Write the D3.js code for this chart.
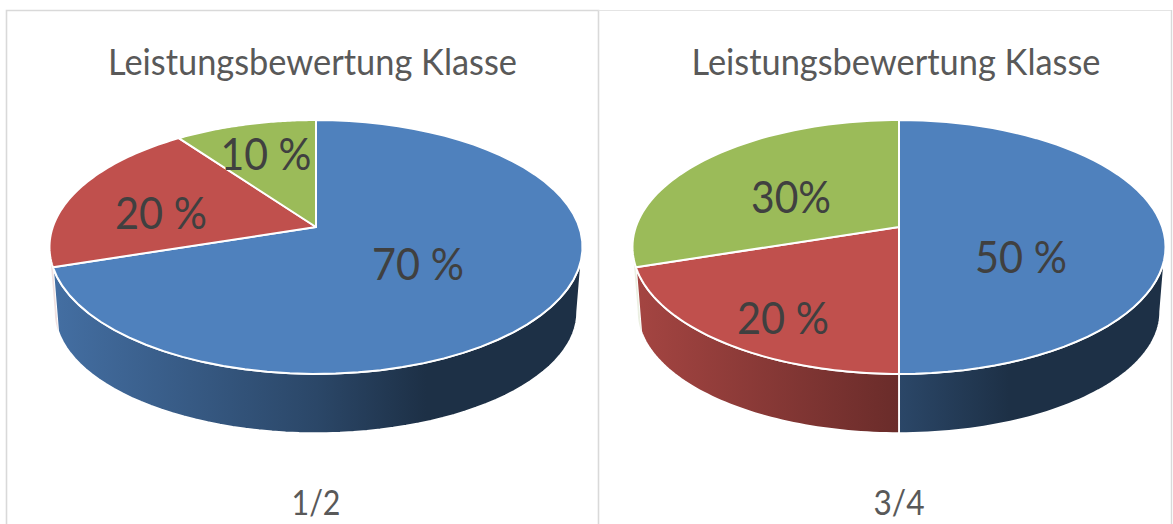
<!DOCTYPE html>
<html><head><meta charset="utf-8">
<style>html,body{margin:0;padding:0;background:#fff}svg{display:block}text{font-family:Lato,"Open Sans",sans-serif}</style>
<script src="https://cdn.jsdelivr.net/npm/d3@7/dist/d3.min.js"></script>
</head><body><svg id="c" width="1173" height="524"></svg>
<script>
const chartTitle = "Leistungsbewertung Klasse";
const categories = ["Sehr gut", "Mittel", "Schwach"];
const gradeGroups = ["1/2", "3/4"];
const values12 = [70, 20, 10];
const values34 = [50, 20, 30];
const labels12 = ["70 %", "20 %", "10 %"];
const labels34 = ["50 %", "20 %", "30%"];
const colors = ["#4f81bd", "#c0504d", "#9bbb59"];

const W = 1173, H = 524;
const svg = d3.select("#c").attr("viewBox", [0, 0, W, H]);
const defs = svg.append("defs");

// layout: the tilted pie is a projected circle
const apexY = 227, R = 263.2, B = 123.8, k = 0.1575;
const rimSx = 0.98, rimSy = 0.955, rimOff = 65.8;
const sideStart = 99 * Math.PI / 180, sideEnd = 261 * Math.PI / 180, fadeFrom = 252 * Math.PI / 180;
const shade = d3.scaleLinear().domain([-266, 0, 110, 266]).range([0.86, 0.55, 0.37, 0.37]);
const project = (a, f = 1) => {
  const u = f * Math.sin(a), v = -f * Math.cos(a), d = 1 - k * v;
  return [R * u / d, B * v / d];
};
const rim = a => { const [x, y] = project(a); return [x * rimSx, y * rimSy + rimOff]; };
const line = d3.line();
const arcPts = (a0, a1, fn) => d3.range(0, 61).map(i => fn(a0 + (a1 - a0) * i / 60));

const panels = [
  {id: "a", cx: 316, titleX: 312.5, values: values12, labels: labels12, group: gradeGroups[0], groupW: 49,
   labelPos: [[102, 38], [-155, -13], [-50, -72]], labelW: [92, 92, 91]},
  {id: "b", cx: 899, titleX: 896, values: values34, labels: labels34, group: gradeGroups[1], groupW: 51,
   labelPos: [[122, 31], [-116, 92], [-108, -29]], labelW: [92, 92, 80]}
];

// frame
const frame = svg.append("g").attr("stroke", "#d9d9d9").attr("fill", "none");
frame.append("path").attr("d", "M6.5,524V10.5H598.5V524").attr("stroke-width", 1.6);
frame.append("path").attr("d", "M598.5,10.5H1171").attr("stroke-width", 1).attr("stroke", "#e4e4e4");
frame.append("path").attr("d", "M1171.5,10V524").attr("stroke-width", 1.4);

const pie = d3.pie().sort(null).startAngle(0).endAngle(2 * Math.PI);

panels.forEach(p => {
  const g = svg.append("g").attr("transform", `translate(${p.cx},${apexY})`);
  const arcs = pie(p.values);

  const sideGroup = g.append("g");
  arcs.forEach((d, i) => {
    const gid = `g${p.id}${i}`;
    const grad = defs.append("linearGradient").attr("id", gid)
      .attr("gradientUnits", "userSpaceOnUse").attr("x1", -266).attr("x2", 266).attr("y1", 0).attr("y2", 0);
    shade.domain().forEach(x => {
      const c = d3.rgb(colors[i]), s = shade(x);
      grad.append("stop").attr("offset", (x + 266) / 532)
        .attr("stop-color", d3.rgb(c.r * s, c.g * s, c.b * s).formatHex());
    });
    const drawSide = (a0, a1, faint) => {
      if (a1 <= a0) return;
      const top = arcPts(a0, a1, project), bot = arcPts(a0, a1, rim).reverse();
      sideGroup.append("path").attr("d", line(top.concat(bot)) + "Z")
        .attr("fill", `url(#${gid})`)
        .attr("stroke", faint ? "none" : "#fff").attr("stroke-width", faint ? 0 : 1.8)
        .attr("opacity", faint ? 0.16 : 1);
    };
    const a0 = Math.max(d.startAngle, sideStart), a1 = Math.min(d.endAngle, sideEnd);
    drawSide(a0, Math.min(a1, fadeFrom), false);
    drawSide(Math.max(a0, fadeFrom), a1, true);
  });

  g.selectAll("path.top").data(arcs).join("path").attr("class", "top")
    .attr("d", d => line([[0, 0], ...arcPts(d.startAngle, d.endAngle, project)]) + "Z")
    .attr("fill", (d, i) => colors[i])
    .attr("stroke", "#fff").attr("stroke-width", 2).attr("stroke-linejoin", "round");

  g.selectAll("text.val").data(arcs).join("text").attr("class", "val")
    .attr("x", (d, i) => p.labelPos[i][0]).attr("y", (d, i) => p.labelPos[i][1] + 15)
    .attr("text-anchor", "middle").attr("font-size", 44).attr("fill", "#404040")
    .attr("textLength", (d, i) => p.labelW[i]).attr("lengthAdjust", "spacingAndGlyphs")
    .text((d, i) => p.labels[i]);

  svg.append("text").attr("x", p.titleX).attr("y", 75).attr("text-anchor", "middle")
    .attr("font-size", 36).attr("fill", "#595959")
    .attr("textLength", 409).attr("lengthAdjust", "spacingAndGlyphs").text(chartTitle);
  svg.append("text").attr("x", p.cx).attr("y", 515).attr("text-anchor", "middle")
    .attr("font-size", 34).attr("fill", "#595959")
    .attr("textLength", p.groupW).attr("lengthAdjust", "spacingAndGlyphs").text(p.group);
});
</script></body></html>
